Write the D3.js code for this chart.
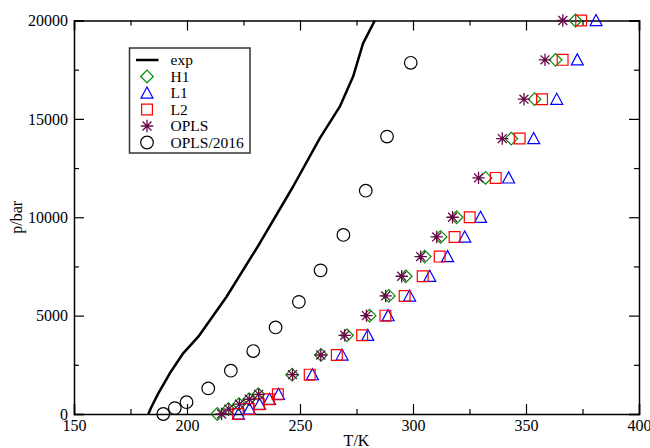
<!DOCTYPE html>
<html>
<head>
<meta charset="utf-8">
<script src="https://cdn.jsdelivr.net/npm/d3@7"></script>
<style>
  html, body { margin: 0; padding: 0; background: #fff; }
  svg { display: block; }
  svg text { font-family: "Liberation Serif", "Times New Roman", Times, "DejaVu Serif", serif !important; }
</style>
</head>
<body>
<svg id="chart" width="650" height="448"></svg>
<script>
// ---------------- data ----------------
const expT = [182.9, 184.3, 187.3, 192.4, 198.3, 205.0, 217.5, 232.2, 246.9, 258.8, 267.6, 273.5, 277.9, 283.1];
const expP = [0, 370, 1050, 2070, 3085, 3930, 5960, 8680, 11550, 14020, 15620, 17150, 18840, 20000];

const simP = [0, 250, 500, 750, 1000, 2000, 3000, 4000, 5000, 6000, 7000, 8000, 9000, 10000, 12000, 14000, 16000, 18000, 20000];
const h1T   = [213.4, 218.3, 223.0, 227.5, 231.5, 246.5, 259.3, 270.8, 280.8, 289.3, 296.8, 305.2, 312.2, 319.3, 332.1, 343.5, 353.8, 363.1, 371.9];
const l1T   = [222.8, 227.6, 232.1, 236.5, 240.5, 255.5, 268.6, 280.0, 289.0, 298.5, 307.4, 315.3, 322.9, 329.9, 342.3, 353.4, 363.6, 372.7, 381.0];
const l2T   = [222.6, 227.3, 231.8, 236.2, 240.2, 254.3, 266.3, 277.5, 287.8, 296.3, 304.3, 311.8, 318.4, 325.1, 336.6, 347.2, 357.1, 366.2, 374.4];
const oplsT = [215.3, 218.5, 223.2, 227.6, 231.7, 246.7, 259.2, 269.8, 279.4, 287.9, 295.0, 303.4, 310.5, 317.5, 329.0, 339.5, 349.1, 358.4, 366.3];

const o16T = [189.5, 194.6, 199.8, 209.4, 219.4, 229.3, 239.2, 249.5, 259.1, 269.2, 279.1, 288.5, 299.0];
const o16P = [0, 300, 600, 1300, 2200, 3200, 4400, 5700, 7300, 9100, 11350, 14100, 17850];

const xMajor = [150, 200, 250, 300, 350, 400];
const xMinor = [175, 225, 275, 325, 375];
const yMajor = [0, 5000, 10000, 15000, 20000];
const yMinor = [2500, 7500, 12500, 17500];

const legendLabels = ["exp", "H1", "L1", "L2", "OPLS", "OPLS/2016"];

// ---------------- layout ----------------
const FONT = '"Liberation Serif", "Times New Roman", Times, "DejaVu Serif", serif';
const svg = d3.select("#chart");
const x = d3.scaleLinear().domain([150, 400]).range([74, 639]);
const y = d3.scaleLinear().domain([0, 20000]).range([414, 20.5]);

const fontSize = 16;

function styleAxis(g) {
  g.attr("font-family", FONT).attr("font-size", fontSize);
  g.selectAll("path.domain").attr("stroke", "#000").attr("stroke-width", 1.5);
  g.selectAll(".tick line").attr("stroke", "#000").attr("stroke-width", 1.2);
  g.selectAll(".tick text").attr("fill", "#000").attr("font-family", FONT).attr("font-size", fontSize);
}

const [x0, x1] = x.range();
const [y0, y1] = y.range();

svg.append("g").attr("transform", `translate(0,${y0})`)
  .call(d3.axisBottom(x).tickValues(xMajor).tickSize(-10).tickPadding(6).tickFormat(d3.format("d")))
  .call(styleAxis);
svg.append("g").attr("transform", `translate(0,${y0})`)
  .call(d3.axisBottom(x).tickValues(xMinor).tickSize(-5).tickFormat(""))
  .call(styleAxis).call(g => g.select(".domain").remove());

svg.append("g").attr("transform", `translate(0,${y1})`)
  .call(d3.axisTop(x).tickValues(xMajor).tickSize(-10).tickFormat(""))
  .call(styleAxis);
svg.append("g").attr("transform", `translate(0,${y1})`)
  .call(d3.axisTop(x).tickValues(xMinor).tickSize(-5).tickFormat(""))
  .call(styleAxis).call(g => g.select(".domain").remove());

svg.append("g").attr("transform", `translate(${x0},0)`)
  .call(d3.axisLeft(y).tickValues(yMajor).tickSize(-10).tickPadding(6).tickFormat(d3.format("d")))
  .call(styleAxis);
svg.append("g").attr("transform", `translate(${x0},0)`)
  .call(d3.axisLeft(y).tickValues(yMinor).tickSize(-5).tickFormat(""))
  .call(styleAxis).call(g => g.select(".domain").remove());

svg.append("g").attr("transform", `translate(${x1},0)`)
  .call(d3.axisRight(y).tickValues(yMajor).tickSize(-10).tickFormat(""))
  .call(styleAxis);
svg.append("g").attr("transform", `translate(${x1},0)`)
  .call(d3.axisRight(y).tickValues(yMinor).tickSize(-5).tickFormat(""))
  .call(styleAxis).call(g => g.select(".domain").remove());

// axis titles
svg.append("text").attr("x", (x0 + x1) / 2).attr("y", 446)
  .attr("text-anchor", "middle").attr("font-family", FONT).attr("font-size", fontSize).text("T/K");
svg.append("text").attr("transform", `translate(22,${(y0 + y1) / 2}) rotate(-90)`)
  .attr("text-anchor", "middle").attr("font-family", FONT).attr("font-size", fontSize).text("p/bar");

// ---------------- symbols ----------------
const sym = {
  diamond: r => `M0,${-r}L${r},0L0,${r}L${-r},0Z`,
  triangle: r => `M0,${-r}L${r},${r * 0.85}L${-r},${r * 0.85}Z`,
  square: r => `M${-r},${-r}H${r}V${r}H${-r}Z`,
  star: r => { const d = r * 0.72; return `M${-r},0H${r}M0,${-r}V${r}M${-d},${-d}L${d},${d}M${-d},${d}L${d},${-d}`; },
  circle: r => `M${r},0A${r},${r} 0 1 1 ${-r},0A${r},${r} 0 1 1 ${r},0Z`
};

const series = [
  { name: "H1",   T: h1T,   P: simP, shape: "diamond",  r: 6.3, color: "#008b00", sw: 1.2 },
  { name: "L1",   T: l1T,   P: simP, shape: "triangle", r: 6.0, color: "#0000ff", sw: 1.2 },
  { name: "L2",   T: l2T,   P: simP, shape: "square",   r: 5.4, color: "#ff0000", sw: 1.2 },
  { name: "OPLS", T: oplsT, P: simP, shape: "star",     r: 6.2, color: "#670748", sw: 1.3 },
  { name: "OPLS/2016", T: o16T, P: o16P, shape: "circle", r: 6.3, color: "#000000", sw: 1.2 }
];

const expData = expT.map((t, i) => [t, expP[i]]);
svg.append("path").datum(expData)
  .attr("d", d3.line().x(d => x(d[0])).y(d => y(d[1])))
  .attr("fill", "none").attr("stroke", "#000").attr("stroke-width", 2.5)
  .attr("stroke-linejoin", "round");

series.forEach(s => {
  const data = s.T.map((t, i) => [t, s.P[i]]);
  svg.append("g").selectAll("path").data(data).join("path")
    .attr("transform", d => `translate(${x(d[0])},${y(d[1])})`)
    .attr("d", sym[s.shape](s.r))
    .attr("fill", "none").attr("stroke", s.color).attr("stroke-width", s.sw);
});

// ---------------- legend ----------------
const lg = svg.append("g");
lg.append("rect").attr("x", 129.5).attr("y", 48).attr("width", 120.5).attr("height", 105)
  .attr("fill", "#fff").attr("stroke", "#333").attr("stroke-width", 1.5);
legendLabels.forEach((lab, i) => {
  const cy = 60 + i * 16.5;
  if (i === 0) {
    lg.append("line").attr("x1", 136).attr("x2", 158.5).attr("y1", cy).attr("y2", cy)
      .attr("stroke", "#000").attr("stroke-width", 2.5);
  } else {
    const s = series[i - 1];
    lg.append("path").attr("transform", `translate(147,${cy})`)
      .attr("d", sym[s.shape](s.r))
      .attr("fill", "none").attr("stroke", s.color).attr("stroke-width", s.sw);
  }
  lg.append("text").attr("x", 170.5).attr("y", cy).attr("dy", "0.33em")
    .attr("font-family", FONT).attr("font-size", 15.5).attr("fill", "#000").text(lab);
});
</script>
</body>
</html>
